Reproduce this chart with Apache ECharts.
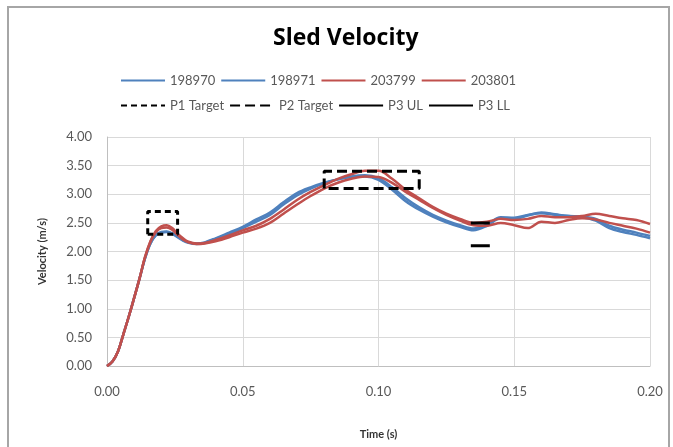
<!DOCTYPE html>
<html><head><meta charset="utf-8">
<script src="https://cdn.jsdelivr.net/npm/echarts@6/dist/echarts.min.js"></script>
<style>html,body{margin:0;padding:0;background:#fff}#c{width:673px;height:447px}</style>
</head><body><div id="c"></div>
<script>
const time = [0,0.002,0.004,0.006,0.008,0.010,0.012,0.014,0.016,0.018,0.020,0.022,0.024,0.026,0.028,0.030,0.033,0.036,0.040,0.045,0.050,0.055,0.060,0.065,0.070,0.075,0.080,0.085,0.090,0.095,0.100,0.105,0.110,0.115,0.120,0.125,0.130,0.135,0.140,0.145,0.150,0.155,0.160,0.165,0.170,0.175,0.180,0.185,0.190,0.195,0.200];
const s198970 = [0,0.08,0.25,0.55,0.86,1.19,1.53,1.88,2.14,2.29,2.34,2.35,2.32,2.26,2.20,2.16,2.14,2.16,2.23,2.33,2.43,2.56,2.68,2.86,3.02,3.12,3.20,3.26,3.30,3.31,3.25,3.08,2.88,2.73,2.61,2.51,2.43,2.37,2.45,2.58,2.57,2.63,2.68,2.65,2.62,2.60,2.54,2.41,2.34,2.29,2.23];
const s198971 = [0,0.08,0.25,0.55,0.86,1.19,1.53,1.88,2.14,2.28,2.33,2.34,2.31,2.25,2.19,2.15,2.13,2.15,2.22,2.31,2.41,2.52,2.64,2.82,2.98,3.10,3.19,3.26,3.31,3.33,3.28,3.12,2.93,2.77,2.64,2.54,2.46,2.40,2.47,2.60,2.59,2.64,2.67,2.64,2.62,2.61,2.57,2.45,2.38,2.33,2.27];
const s203799 = [0,0.08,0.25,0.55,0.86,1.19,1.53,1.90,2.18,2.36,2.44,2.46,2.41,2.31,2.23,2.17,2.14,2.15,2.20,2.28,2.37,2.45,2.57,2.73,2.90,3.04,3.16,3.27,3.35,3.41,3.41,3.27,3.08,2.93,2.78,2.66,2.57,2.50,2.52,2.57,2.55,2.57,2.62,2.60,2.60,2.62,2.66,2.62,2.58,2.55,2.48];
const s203801 = [0,0.08,0.25,0.55,0.86,1.19,1.53,1.90,2.17,2.34,2.41,2.42,2.38,2.29,2.21,2.16,2.13,2.14,2.18,2.25,2.33,2.40,2.50,2.66,2.82,2.97,3.10,3.20,3.27,3.31,3.30,3.20,3.04,2.90,2.76,2.64,2.54,2.46,2.45,2.50,2.46,2.41,2.52,2.50,2.55,2.58,2.56,2.50,2.45,2.40,2.33];
const p1Target = [[0.015,2.30],[0.015,2.70],[0.026,2.70],[0.026,2.30],[0.015,2.30]];
const p2Target = [[0.080,3.10],[0.080,3.40],[0.115,3.40],[0.115,3.10],[0.080,3.10]];
const p3UL = [[0.134,2.50],[0.141,2.50]];
const p3LL = [[0.134,2.10],[0.141,2.10]];
const xTicks = [0,0.05,0.10,0.15,0.20];
const yTicks = [0,0.5,1,1.5,2,2.5,3,3.5,4];

const BLUE = '#4F81BD', RED = '#C0504D', GRAY = '#595959';
const FONT = 'Lato, "Open Sans", sans-serif';
function pair(xs, ys){ return xs.map((x,i)=>[x, ys[i]]); }
function vel(name, ys, color){
  return {name, type:'line', data: pair(time, ys), symbol:'none', smooth:0.35,
    lineStyle:{color, width:2.5}, itemStyle:{color}, z:3};
}
function tgt(name, d, dash, width){
  return {name, type:'line', data:d, symbol:'none', smooth:false,
    lineStyle:{color:'#000', width:width, type:dash}, itemStyle:{color:'#000'}, z:5};
}
const legendCommon = {itemWidth:44, itemHeight:12, itemGap:5,
  itemStyle:{opacity:0},
  textStyle:{color:GRAY, fontSize:13, fontFamily:FONT, width:62, overflow:'none'}};
const chart = echarts.init(document.getElementById('c'));
chart.setOption({
  backgroundColor:'#fff',
  animation:false,
  title:{text:'Sled Velocity', left:268, top:22,
    textStyle:{fontFamily:'"Open Sans", Lato, sans-serif', fontSize:23, fontWeight:'bold', color:'#000'}},
  legend:[
    Object.assign({}, legendCommon, {left:115, top:69, data:['198970','198971','203799','203801']}),
    Object.assign({}, legendCommon, {left:115, top:94, data:['P1 Target','P2 Target','P3 UL','P3 LL']})
  ],
  grid:{left:107, right:23, top:137, bottom:81},
  xAxis:{type:'value', min:0, max:0.2, interval:0.05,
    name:'Time (s)', nameLocation:'middle', nameGap:63,
    nameTextStyle:{fontFamily:FONT, fontSize:11, fontWeight:'bold', color:'#333'},
    axisLine:{lineStyle:{color:'#bfbfbf'}}, axisTick:{show:false},
    axisLabel:{formatter:v=>v.toFixed(2), color:GRAY, fontSize:13, fontFamily:FONT, margin:19},
    splitLine:{show:true, lineStyle:{color:'#d9d9d9'}}},
  yAxis:{type:'value', min:0, max:4, interval:0.5,
    name:'Velocity (m/s)', nameLocation:'middle', nameGap:59,
    nameTextStyle:{fontFamily:FONT, fontSize:11, fontWeight:'bold', color:'#333'},
    axisLine:{show:true, lineStyle:{color:'#bfbfbf'}}, axisTick:{show:false},
    axisLabel:{formatter:v=>v.toFixed(2), color:GRAY, fontSize:13, fontFamily:FONT, margin:15},
    splitLine:{show:true, lineStyle:{color:'#d9d9d9'}}},
  graphic:[{type:'rect', shape:{x:8, y:7, width:661, height:460},
    style:{fill:'none', stroke:'#a6a6a6', lineWidth:2}, silent:true}],
  series:[
    vel('198970', s198970, BLUE), vel('198971', s198971, BLUE),
    vel('203799', s203799, RED), vel('203801', s203801, RED),
    tgt('P1 Target', p1Target, [6,4], 3), tgt('P2 Target', p2Target, [10,5], 3),
    tgt('P3 UL', p3UL, 'solid', 3), tgt('P3 LL', p3LL, 'solid', 3)
  ]
});
</script></body></html>
